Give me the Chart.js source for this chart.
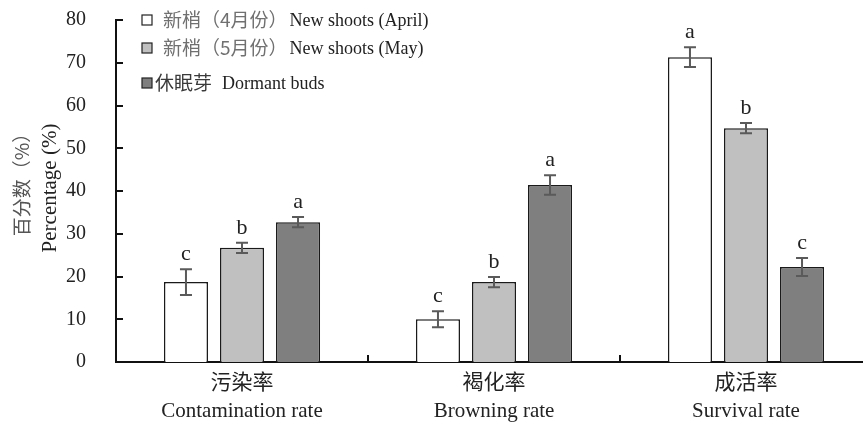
<!DOCTYPE html>
<html>
<head>
<meta charset="utf-8">
<script src="https://cdn.jsdelivr.net/npm/chart.js@4.4.1/dist/chart.umd.min.js"></script>
<style>
  html, body { margin: 0; padding: 0; background: #fff; overflow: hidden; }
  #wrap { width: 872px; height: 423px; }
</style>
</head>
<body>
<div id="wrap"><canvas id="chart" width="872" height="423"></canvas></div>
<script>
// categories (two-line labels: Chinese / English)
const categories = [
  ['污染率', 'Contamination rate'],
  ['褐化率', 'Browning rate'],
  ['成活率', 'Survival rate']
];
const legendCn = ['新梢（4月份）', '新梢（5月份）', '休眠芽'];
const legendEn = ['New shoots (April)', 'New shoots (May)', 'Dormant buds'];

// means (%)
const aprilVals = [18.7, 10.0, 71.3];
const mayVals = [26.7, 18.7, 54.7];
const dormantVals = [32.7, 41.4, 22.2];

// error (+/-)
const aprilErr = [3.0, 1.9, 2.3];
const mayErr = [1.2, 1.2, 1.2];
const dormantErr = [1.2, 2.3, 2.1];

// significance letters
const aprilSig = ['c', 'c', 'a'];
const maySig = ['b', 'b', 'b'];
const dormantSig = ['a', 'a', 'c'];

const yTicks = [0, 10, 20, 30, 40, 50, 60, 70, 80];

const SERIF = "'Liberation Serif', 'Times New Roman', serif";
const CJK = "'Noto Sans CJK SC', sans-serif";
const fills = ['#ffffff', '#c0c0c0', '#7f7f7f'];

// error bars + letters on top of each bar
const errorBarPlugin = {
  id: 'errorBars',
  afterDatasetsDraw(chart) {
    const ctx = chart.ctx;
    const y = chart.scales.y;
    chart.data.datasets.forEach((ds, di) => {
      const meta = chart.getDatasetMeta(di);
      meta.data.forEach((bar, i) => {
        const v = ds.data[i], e = ds.err[i];
        const yTop = y.getPixelForValue(v + e);
        const yBot = y.getPixelForValue(v - e);
        ctx.save();
        ctx.strokeStyle = '#5a5a5a';
        ctx.lineWidth = 2;
        ctx.beginPath();
        ctx.moveTo(bar.x, yTop); ctx.lineTo(bar.x, yBot);
        ctx.moveTo(bar.x - 6, yTop); ctx.lineTo(bar.x + 6, yTop);
        ctx.moveTo(bar.x - 6, yBot); ctx.lineTo(bar.x + 6, yBot);
        ctx.stroke();
        ctx.fillStyle = '#222';
        ctx.font = '22px ' + SERIF;
        ctx.textAlign = 'center';
        ctx.textBaseline = 'alphabetic';
        ctx.fillText(ds.sig[i], bar.x, yTop - 9);
        ctx.restore();
      });
    });
  }
};

// inward tick marks, y titles and legend
const decorPlugin = {
  id: 'decor',
  afterDraw(chart) {
    const ctx = chart.ctx;
    const area = chart.chartArea;
    const x = chart.scales.x, y = chart.scales.y;
    ctx.save();
    ctx.strokeStyle = '#111';
    ctx.lineWidth = 2;
    ctx.beginPath();
    yTicks.forEach(t => {
      const py = Math.round(y.getPixelForValue(t));
      ctx.moveTo(area.left, py); ctx.lineTo(area.left + 7, py);
    });
    for (let i = 1; i < categories.length; i++) {
      const px = Math.round((x.getPixelForTick(i - 1) + x.getPixelForTick(i)) / 2);
      ctx.moveTo(px, area.bottom); ctx.lineTo(px, area.bottom - 7);
    }
    ctx.stroke();

    // y axis titles
    ctx.textAlign = 'center';
    ctx.textBaseline = 'middle';
    ctx.save();
    ctx.translate(22, 180);
    ctx.rotate(-Math.PI / 2);
    ctx.fillStyle = '#555';
    ctx.font = '19px ' + CJK;
    ctx.fillText('百分数（%）', 0, 0);
    ctx.restore();
    ctx.save();
    ctx.translate(50, 188);
    ctx.rotate(-Math.PI / 2);
    ctx.fillStyle = '#222';
    ctx.font = '21px ' + SERIF;
    ctx.fillText('Percentage (%)', 0, 0);
    ctx.restore();

    // legend
    const rowsY = [20, 48, 83];
    const textX = [163, 163, 155];
    ctx.textAlign = 'left';
    chart.data.datasets.forEach((ds, i) => {
      const ry = rowsY[i];
      ctx.fillStyle = ds.backgroundColor;
      ctx.fillRect(142, ry - 5, 10, 10);
      ctx.strokeStyle = '#222';
      ctx.lineWidth = 1.2;
      ctx.strokeRect(142, ry - 5, 10, 10);
      ctx.font = '19px ' + CJK;
      ctx.fillStyle = i < 2 ? '#707070' : '#3a3a3a';
      ctx.fillText(legendCn[i], textX[i], ry);
      const w = ctx.measureText(legendCn[i]).width;
      ctx.font = '18px ' + SERIF;
      ctx.fillStyle = '#222';
      ctx.fillText(legendEn[i], textX[i] + w + (i < 2 ? 2 : 10), ry + 1);
    });
    ctx.restore();
  }
};

const ctx = document.getElementById('chart').getContext('2d');
new Chart(ctx, {
  type: 'bar',
  data: {
    labels: categories,
    datasets: [
      { label: legendEn[0], data: aprilVals, err: aprilErr, sig: aprilSig, backgroundColor: fills[0] },
      { label: legendEn[1], data: mayVals, err: mayErr, sig: maySig, backgroundColor: fills[1] },
      { label: legendEn[2], data: dormantVals, err: dormantErr, sig: dormantSig, backgroundColor: fills[2] }
    ].map(d => Object.assign(d, {
      borderColor: '#1a1a1a',
      borderWidth: 1.5,
      categoryPercentage: 0.667,
      barPercentage: 0.786
    }))
  },
  options: {
    responsive: false,
    animation: false,
    devicePixelRatio: 1,
    layout: { padding: { top: 20, left: 0, right: 0, bottom: 0 } },
    plugins: { legend: { display: false }, tooltip: { enabled: false } },
    scales: {
      x: {
        grid: { display: false },
        border: { display: true, color: '#111', width: 2 },
        ticks: {
          color: '#222',
          font: { family: "'Liberation Serif', 'Noto Sans CJK SC', serif", size: 21, lineHeight: 1.33 },
          padding: 0,
          maxRotation: 0,
          autoSkip: false
        },
        afterFit(scale) { scale.height = 61; scale.paddingLeft = 0; scale.paddingRight = 0; }
      },
      y: {
        min: 0,
        max: 80,
        grid: { display: false },
        border: { display: true, color: '#111', width: 2 },
        ticks: {
          stepSize: 10,
          color: '#222',
          font: { family: SERIF, size: 20 },
          padding: 22
        },
        afterFit(scale) { scale.width = 116; scale.paddingTop = 0; scale.paddingBottom = 0; }
      }
    }
  },
  plugins: [errorBarPlugin, decorPlugin]
});
</script>
</body>
</html>
